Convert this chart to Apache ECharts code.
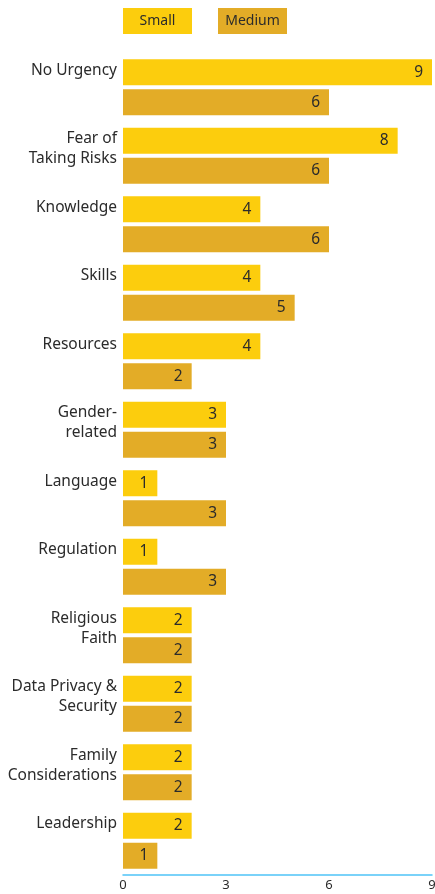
<!DOCTYPE html>
<html>
<head>
<meta charset="utf-8">
<script src="https://cdn.jsdelivr.net/npm/echarts@6/dist/echarts.min.js"></script>
<style>
html,body{margin:0;padding:0;background:#fff;}
#chart{width:435px;height:894px;}
</style>
</head>
<body>
<div id="chart"></div>
<script>
const categories = [
  'No Urgency',
  'Fear of\nTaking Risks',
  'Knowledge',
  'Skills',
  'Resources',
  'Gender-\nrelated',
  'Language',
  'Regulation',
  'Religious\nFaith',
  'Data Privacy &\nSecurity',
  'Family\nConsiderations',
  'Leadership'
];
const seriesNames = ['Small', 'Medium'];
const smallValues = [9, 8, 4, 4, 4, 3, 1, 1, 2, 2, 2, 2];
const mediumValues = [6, 6, 6, 5, 2, 3, 3, 3, 2, 2, 2, 1];
const xTicks = { min: 0, max: 9, interval: 3 };

const FONT = '"Noto Sans", sans-serif';
const COL_SMALL = '#FCCD0D';
const COL_MEDIUM = '#E3AC27';
const TXT = '#2b2b2b';

const chart = echarts.init(document.getElementById('chart'), null, { renderer: 'canvas' });

const valueLabel = {
  show: true,
  position: 'insideRight',
  distance: 9,
  color: TXT,
  fontFamily: FONT,
  fontSize: 15.5
};

chart.setOption({
  animation: false,
  backgroundColor: '#fff',
  textStyle: { fontFamily: FONT },
  legend: {
    data: seriesNames,
    left: 113,
    top: 3,
    itemWidth: 0,
    itemHeight: 26,
    itemGap: 21,
    icon: 'rect',
    selectedMode: false,
    formatter: function (name) {
      return name === 'Small' ? '{s|' + name + '}' : '{m|' + name + '}';
    },
    textStyle: {
      fontFamily: FONT,
      fontSize: 14,
      color: TXT,
      rich: {
        s: { backgroundColor: COL_SMALL, width: 69, height: 26, lineHeight: 26, align: 'center', fontSize: 14, color: TXT, fontFamily: FONT },
        m: { backgroundColor: COL_MEDIUM, width: 69, height: 26, lineHeight: 26, align: 'center', fontSize: 14, color: TXT, fontFamily: FONT }
      }
    }
  },
  grid: {
    left: 123,
    right: 3,
    top: 53,
    bottom: 19,
    containLabel: false,
    outerBoundsMode: 'none'
  },
  xAxis: {
    type: 'value',
    min: xTicks.min,
    max: xTicks.max,
    interval: xTicks.interval,
    axisLine: { show: true, lineStyle: { color: '#4FC3F7', width: 1.5 } },
    axisTick: { show: false },
    splitLine: { show: false },
    axisLabel: {
      color: TXT,
      fontFamily: FONT,
      fontSize: 13,
      margin: 4
    }
  },
  yAxis: {
    type: 'category',
    data: categories,
    inverse: true,
    axisLine: { show: false },
    axisTick: { show: false },
    splitLine: { show: false },
    axisLabel: {
      color: TXT,
      fontFamily: FONT,
      fontSize: 15.5,
      lineHeight: 20,
      margin: 6,
      align: 'right',
      verticalAlign: 'top',
      padding: [-27, 0, 0, 0]
    }
  },
  series: [
    {
      name: seriesNames[0],
      type: 'bar',
      data: smallValues,
      barWidth: 26,
      barGap: '16%',
      itemStyle: { color: COL_SMALL },
      label: valueLabel
    },
    {
      name: seriesNames[1],
      type: 'bar',
      data: mediumValues,
      barWidth: 26,
      barGap: '16%',
      itemStyle: { color: COL_MEDIUM },
      label: valueLabel
    }
  ]
});
</script>
</body>
</html>
